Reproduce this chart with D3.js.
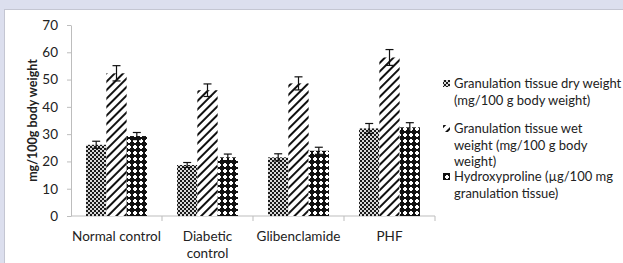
<!DOCTYPE html>
<html>
<head>
<meta charset="utf-8">
<script src="https://cdn.jsdelivr.net/npm/d3@7"></script>
<style>
  body { margin: 0; background: #dcdfee; }
  svg { display: block; }
</style>
</head>
<body>
<svg></svg>
<script>
// Values
const groups = ['Normal control', 'Diabetic control', 'Glibenclamide', 'PHF'];
const seriesNames = [
  'Granulation tissue dry weight (mg/100 g body weight)',
  'Granulation tissue wet weight (mg/100 g body weight)',
  'Hydroxyproline (µg/100 mg granulation tissue)',
];
const dryWeight = [26.1, 18.7, 21.5, 32.1];
const wetWeight = [52.3, 46.1, 48.6, 58.1];
const hydroxyproline = [29.3, 21.5, 23.9, 32.5];
const dryErr = [1.3, 0.9, 1.3, 1.8];
const wetErr = [2.8, 2.3, 2.4, 2.9];
const hydroxyErr = [1.3, 1.2, 1.3, 1.7];
const yTicks = [0, 10, 20, 30, 40, 50, 60, 70];

const width = 623;
const height = 263;
const margin = {top: 25, left: 71, bottom: 47};
const plotRight = 435;
const font = 'Lato, "Open Sans", sans-serif';

const svg = d3.select('svg').attr('width', width).attr('height', height);

// white panel with a thin grey edge, lavender shows round it
svg.append('rect')
    .attr('x', 4.5).attr('y', 9.5)
    .attr('width', width).attr('height', height)
    .attr('fill', '#fff')
    .attr('stroke', '#c4c6d2');

// fill patterns for the three series
const defs = svg.append('defs');

const p1 = defs.append('pattern').attr('id', 'pat-dry')
    .attr('patternUnits', 'userSpaceOnUse').attr('width', 4).attr('height', 4);
p1.append('rect').attr('width', 4).attr('height', 4).attr('fill', '#d8d8d8');
p1.append('rect').attr('width', 2).attr('height', 2).attr('fill', '#1a1a1a');
p1.append('rect').attr('x', 2).attr('y', 2).attr('width', 2).attr('height', 2)
    .attr('fill', '#1a1a1a');

const p2 = defs.append('pattern').attr('id', 'pat-wet')
    .attr('patternUnits', 'userSpaceOnUse').attr('width', 6).attr('height', 6)
    .attr('patternTransform', 'rotate(45)');
p2.append('rect').attr('width', 6).attr('height', 6).attr('fill', '#fff');
p2.append('rect').attr('width', 2).attr('height', 6).attr('fill', '#111');

const p3 = defs.append('pattern').attr('id', 'pat-hyp')
    .attr('patternUnits', 'userSpaceOnUse').attr('width', 6).attr('height', 6);
p3.append('rect').attr('width', 6).attr('height', 6).attr('fill', '#111');
p3.append('rect').attr('x', 2).attr('y', 1).attr('width', 2).attr('height', 4)
    .attr('fill', '#fff');
p3.append('rect').attr('x', 1).attr('y', 2).attr('width', 4).attr('height', 2)
    .attr('fill', '#fff');

const fills = ['url(#pat-dry)', 'url(#pat-wet)', 'url(#pat-hyp)'];

const x0 = d3.scaleBand().domain(groups)
    .range([margin.left, plotRight]).paddingInner(0).paddingOuter(0);
const x1 = d3.scaleBand().domain([0, 1, 2])
    .range([0, x0.bandwidth()]).paddingOuter(0.74).paddingInner(0);
const y = d3.scaleLinear().domain([0, 70])
    .range([height - margin.bottom, margin.top]);

// y axis
const yAxis = svg.append('g')
    .attr('transform', `translate(${margin.left},0)`)
    .call(d3.axisLeft(y).tickValues(yTicks).tickSize(4).tickSizeOuter(0));
yAxis.select('.domain').attr('stroke', '#bdbdbd');
yAxis.selectAll('.tick line').attr('stroke', '#bdbdbd');
yAxis.selectAll('.tick text')
    .attr('x', -13)
    .attr('font-family', font).attr('font-size', 13.5).attr('fill', '#222');

// x axis: ticks on the group boundaries
const xAxisG = svg.append('g')
    .attr('transform', `translate(0,${y(0)})`);
xAxisG.append('line')
    .attr('x1', margin.left).attr('x2', plotRight)
    .attr('stroke', '#bdbdbd');
xAxisG.selectAll('.bnd')
    .data(groups.slice(1).concat(['end']))
    .join('line')
    .attr('x1', (d) => d === 'end' ? plotRight : x0(d))
    .attr('x2', (d) => d === 'end' ? plotRight : x0(d))
    .attr('y1', 0).attr('y2', 5)
    .attr('stroke', '#bdbdbd');

// category labels, wrapped like the original
const xLabelLines = {
  'Normal control': ['Normal control'],
  'Diabetic control': ['Diabetic', 'control'],
  'Glibenclamide': ['Glibenclamide'],
  'PHF': ['PHF'],
};
groups.forEach((g) => {
  const t = svg.append('text')
      .attr('x', x0(g) + x0.bandwidth() / 2)
      .attr('y', y(0) + 25)
      .attr('text-anchor', 'middle')
      .attr('font-family', font).attr('font-size', 13.5).attr('fill', '#222');
  xLabelLines[g].forEach((line, i) => {
    t.append('tspan')
        .attr('x', x0(g) + x0.bandwidth() / 2)
        .attr('dy', i === 0 ? 0 : 17)
        .text(line);
  });
});

// y axis title
svg.append('text')
    .attr('transform', `translate(37,${y(35)}) rotate(-90)`)
    .attr('text-anchor', 'middle')
    .attr('font-family', font).attr('font-size', 12.5)
    .attr('font-weight', 'bold').attr('fill', '#222')
    .text('mg/100g body weight');

// bars and error bars
const series = [dryWeight, wetWeight, hydroxyproline];
const errors = [dryErr, wetErr, hydroxyErr];
const barData = [];
groups.forEach((g, gi) => {
  series.forEach((s, si) => {
    barData.push({group: g, s: si, v: s[gi], e: errors[si][gi]});
  });
});

svg.append('g').selectAll('rect')
    .data(barData)
    .join('rect')
    .attr('x', (d) => x0(d.group) + x1(d.s))
    .attr('y', (d) => y(d.v))
    .attr('width', x1.bandwidth())
    .attr('height', (d) => y(0) - y(d.v))
    .attr('fill', (d) => fills[d.s]);

const err = svg.append('g')
    .attr('stroke', '#111').attr('stroke-width', 1.2);
barData.forEach((d) => {
  const cx = x0(d.group) + x1(d.s) + x1.bandwidth() / 2;
  err.append('line')
      .attr('x1', cx).attr('x2', cx)
      .attr('y1', y(d.v - d.e)).attr('y2', y(d.v + d.e));
  [d.v - d.e, d.v + d.e].forEach((v) => {
    err.append('line')
        .attr('x1', cx - 4).attr('x2', cx + 4)
        .attr('y1', y(v)).attr('y2', y(v));
  });
});

// legend
const legendLines = [
  ['Granulation tissue dry weight', '(mg/100 g body weight)'],
  ['Granulation tissue wet', 'weight (mg/100 g body', 'weight)'],
  ['Hydroxyproline (µg/100 mg', 'granulation tissue)'],
];
const legendTop = [88, 133, 181];
legendLines.forEach((lines, i) => {
  svg.append('rect')
      .attr('x', 443).attr('y', legendTop[i] - 8)
      .attr('width', 7).attr('height', 7)
      .attr('fill', fills[i]);
  const t = svg.append('text')
      .attr('y', legendTop[i])
      .attr('font-family', font).attr('font-size', 13).attr('fill', '#222');
  lines.forEach((line, j) => {
    t.append('tspan')
        .attr('x', 454)
        .attr('dy', j === 0 ? 0 : 16.5)
        .text(line);
  });
});
</script>
</body>
</html>
